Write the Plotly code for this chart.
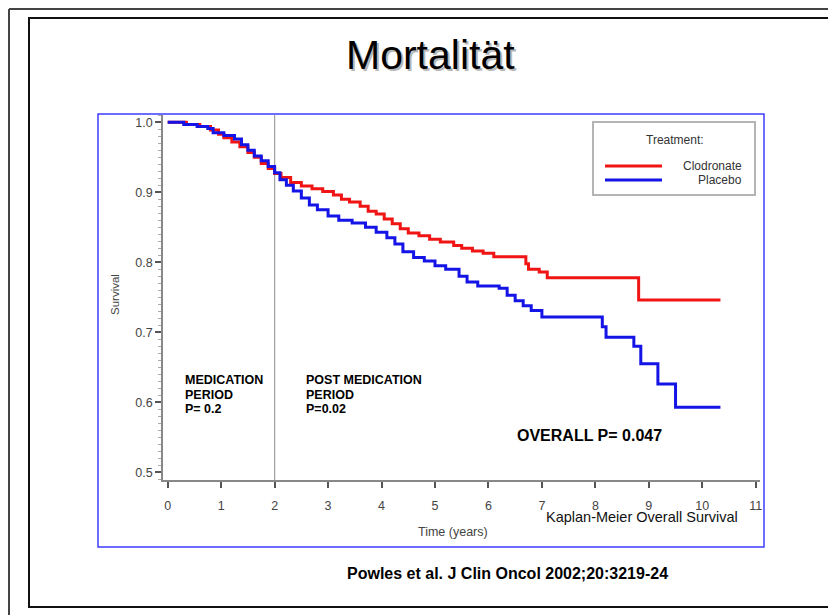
import plotly.graph_objects as go

# ---- data ----
clodronate_t = [0.0, 0.35, 0.6, 0.8, 0.95, 1.05, 1.2, 1.35, 1.5, 1.62, 1.75, 1.88, 2.0, 2.12, 2.3,
                2.5, 2.7, 2.9, 3.1, 3.25, 3.4, 3.6, 3.75, 3.9, 4.05, 4.2, 4.35, 4.5, 4.7, 4.9,
                5.1, 5.35, 5.5, 5.7, 5.9, 6.1, 6.7, 6.75, 6.95, 7.1, 8.81, 10.34]
clodronate_s = [1.000, 0.997, 0.994, 0.989, 0.983, 0.978, 0.972, 0.965, 0.957, 0.950, 0.941, 0.934, 0.927, 0.921, 0.914,
                0.909, 0.905, 0.901, 0.896, 0.890, 0.886, 0.880, 0.873, 0.869, 0.862, 0.855, 0.848, 0.842, 0.838, 0.833,
                0.829, 0.824, 0.820, 0.816, 0.813, 0.808, 0.798, 0.790, 0.786, 0.778, 0.746, 0.746]

placebo_t = [0.0, 0.3, 0.55, 0.75, 0.85, 1.05, 1.25, 1.38, 1.5, 1.62, 1.75, 1.88, 2.0, 2.1, 2.22, 2.35,
             2.5, 2.65, 2.8, 3.0, 3.2, 3.45, 3.7, 3.9, 4.1, 4.25, 4.4, 4.6, 4.8, 5.0, 5.2, 5.45,
             5.6, 5.8, 6.2, 6.35, 6.5, 6.65, 6.8, 7.0, 8.13, 8.2, 8.72, 8.85, 9.17, 9.5, 10.34]
placebo_s = [1.000, 0.997, 0.994, 0.991, 0.985, 0.981, 0.976, 0.968, 0.960, 0.952, 0.945, 0.937, 0.928, 0.918, 0.910, 0.902,
             0.892, 0.882, 0.875, 0.866, 0.860, 0.856, 0.850, 0.843, 0.835, 0.826, 0.815, 0.807, 0.802, 0.795, 0.790, 0.780,
             0.772, 0.766, 0.763, 0.753, 0.745, 0.738, 0.731, 0.722, 0.708, 0.693, 0.680, 0.655, 0.626, 0.593, 0.593]

x_ticks = [0, 1, 2, 3, 4, 5, 6, 7, 8, 9, 10, 11]
y_ticks = [0.5, 0.6, 0.7, 0.8, 0.9, 1.0]
y_tick_labels = ["0.5", "0.6", "0.7", "0.8", "0.9", "1.0"]
series_names = ["Clodronate", "Placebo"]
medication_lines = ["MEDICATION", "PERIOD", "P= 0.2"]
post_medication_lines = ["POST MEDICATION", "PERIOD", "P=0.02"]

FONT = "Liberation Sans, Arial, sans-serif"
RED = "#f01414"
BLUE = "#1414e6"

# page offset (browser body margin) and plot area in screen pixels
OFF = 8
W, H = 836 - OFF, 615 - OFF
L, R, T, B = 163, 760, 115, 480


def px(x):
    return (x - L) / (R - L)


def py(y):
    return (B - y) / (B - T)


fig = go.Figure()
fig.add_trace(go.Scatter(x=clodronate_t, y=clodronate_s, mode="lines", line_shape="hv",
                         line=dict(color=RED, width=3), name=series_names[0], showlegend=False))
fig.add_trace(go.Scatter(x=placebo_t, y=placebo_s, mode="lines", line_shape="hv",
                         line=dict(color=BLUE, width=3), name=series_names[1], showlegend=False))

shapes = []
# outer slide lines
shapes.append(dict(type="line", xref="paper", yref="paper", x0=px(9), x1=px(850), y0=py(9), y1=py(9),
                   line=dict(color="#444", width=2)))
shapes.append(dict(type="line", xref="paper", yref="paper", x0=px(9), x1=px(9), y0=py(9), y1=py(630),
                   line=dict(color="#444", width=2)))
# inner black frame
shapes.append(dict(type="rect", xref="paper", yref="paper", x0=px(29), x1=px(829), y0=py(18), y1=py(607),
                   line=dict(color="#111", width=2)))
# blue frame
shapes.append(dict(type="rect", xref="paper", yref="paper", x0=px(98), x1=px(764), y0=py(114), y1=py(547),
                   line=dict(color="#3c3cff", width=1.5)))
# vertical line at 2 years
shapes.append(dict(type="line", xref="x", yref="paper", x0=2, x1=2, y0=0, y1=1,
                   line=dict(color="#a0a0a0", width=1.2), layer="below"))
# legend box
shapes.append(dict(type="rect", xref="paper", yref="paper", x0=px(593), x1=px(755), y0=py(122), y1=py(195),
                   line=dict(color="#b4b4b4", width=2), fillcolor="white"))
shapes.append(dict(type="line", xref="paper", yref="paper", x0=px(605), x1=px(662), y0=py(166), y1=py(166),
                   line=dict(color=RED, width=3)))
shapes.append(dict(type="line", xref="paper", yref="paper", x0=px(605), x1=px(662), y0=py(180), y1=py(180),
                   line=dict(color=BLUE, width=3)))

ann = []


def text(t, x, y, size, color="#000", bold=False, xanchor="center", yanchor="middle", align="center"):
    ann.append(dict(text=("<b>%s</b>" % t) if bold else t, xref="paper", yref="paper", x=px(x), y=py(y),
                    xanchor=xanchor, yanchor=yanchor, align=align, showarrow=False,
                    font=dict(family=FONT, size=size, color=color)))


# title with soft shadow
text("Mortalität", 432, 57, 41, color="#b8b8b8")
text("Mortalität", 430, 55, 41, color="#000")
# legend texts
text("Treatment:", 675, 140, 12, color="#333")
text(series_names[0], 744, 166, 12, color="#333", xanchor="right")
text(series_names[1], 744, 180, 12, color="#333", xanchor="right")
# period annotations, one line each
for i, (a, b) in enumerate(zip(medication_lines, post_medication_lines)):
    yy = 380 + i * 14.5
    text(a, 183, yy, 12.5, bold=True, xanchor="left")
    text(b, 304, yy, 12.5, bold=True, xanchor="left")
text("OVERALL P= 0.047", 589, 435, 16, bold=True)
text("Kaplan-Meier Overall Survival", 642, 517, 14.5, color="#111")
text("Time (years)", 453, 532, 12.5, color="#444")
text("Survival", 115, 295, 11.5, color="#444")
ann[-1]["textangle"] = -90
text("Powles et al. J Clin Oncol 2002;20:3219-24", 508, 573, 16, bold=True)

fig.update_layout(
    width=W, height=H,
    margin=dict(l=L - OFF, r=836 - R, t=T - OFF, b=615 - B),
    paper_bgcolor="white", plot_bgcolor="white",
    shapes=shapes, annotations=ann,
    showlegend=False,
    font=dict(family=FONT, color="#444"),
)
fig.update_xaxes(range=[-0.088, 11.08], tickvals=x_ticks, ticktext=[str(v) for v in x_ticks],
                 showgrid=False, zeroline=False, showline=True, linecolor="#888", linewidth=1.5,
                 ticks="outside", ticklen=6, tickwidth=2, tickcolor="#555", ticklabelstandoff=7,
                 tickfont=dict(family=FONT, size=12.5, color="#444"))
fig.update_yaxes(range=[0.489, 1.0104], tickvals=y_ticks, ticktext=y_tick_labels,
                 showgrid=False, zeroline=False, showline=True, linecolor="#888", linewidth=1.5,
                 ticks="outside", ticklen=6, tickwidth=2, tickcolor="#555",
                 tickfont=dict(family=FONT, size=12.5, color="#444"),
                 minor=dict(ticks="outside", dtick=0.01, ticklen=3, tickcolor="#aaa", tickwidth=1))

fig.write_html("out.html")
